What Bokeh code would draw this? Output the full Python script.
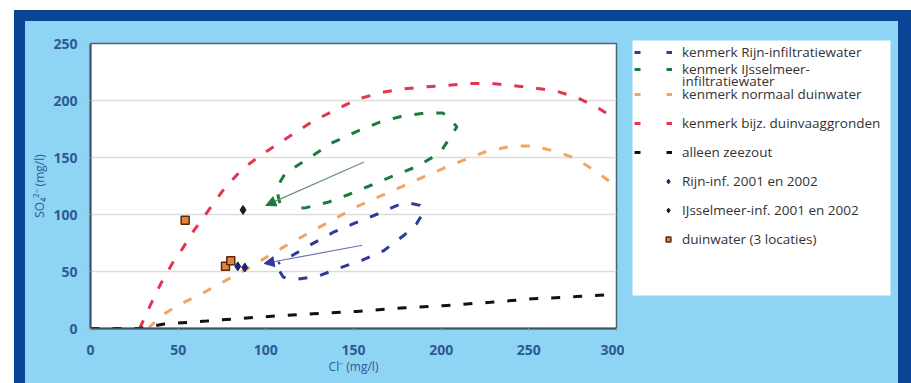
from bokeh.plotting import figure
from bokeh.layouts import row, column
from bokeh.models import (Range1d, FixedTicker, Legend, LegendItem, Arrow, NormalHead)
from bokeh.embed import file_html
from bokeh.resources import INLINE

NAN = float("nan")

# ---------------- data ----------------
x_ticks = [0, 50, 100, 150, 200, 250, 300]
y_ticks = [0, 50, 100, 150, 200, 250]

rijn_x = [108, 110, 117, 130, 142, 155, 167, 179, 186, 190, 188, 182, 175, 163, 150, 138, 125, 115, 107]
rijn_y = [50, 45, 43, 46, 53, 60, 68, 82, 92, 102, 108, 110, 108, 100, 92, 84, 73, 64, 57]

ijssel_x = [108, 106, 111, 125, 138, 152, 165, 177, 191, 201, 209, 201, 197, 186, 173, 159, 148, 136, 123, 114]
ijssel_y = [110, 123, 136, 150, 163, 173, 181, 186, 189, 189, 177, 158, 152, 142, 134, 125, 118, 111, 106, 105]

normaal_x = [33, 40, 52, 64, 77, 90, 102, 114, 126, 139, 152, 165, 177, 190, 202, 215, 227, 241, 253, 266, 277, 289, 296]
normaal_y = [0, 11, 22, 31, 42, 53, 64, 75, 85, 96, 107, 116, 124, 133, 141, 149, 156, 160, 160, 155, 149, 137, 129]

bijz_x = [28, 34, 40, 47, 52, 59, 67, 76, 86, 97, 101, 114, 126, 140, 152, 166, 177, 191, 202, 216, 228, 241, 253, 266, 277, 290, 296]
bijz_y = [0, 20, 39, 58, 69, 86, 103, 122, 139, 152, 156, 169, 181, 192, 201, 207, 210, 212, 213, 215, 215, 213, 211, 208, 203, 193, 187]

zee_x = [0, 28, 42, 66, 91, 127, 152, 177, 201, 228, 252, 277, 295]
zee_y = [0, 0, 4, 6.5, 9.5, 13, 15, 18, 20, 23, 26, 28, 29.5]

rijn_inf_x = [84, 88]
rijn_inf_y = [54.5, 53.5]
ijssel_inf_x = [87]
ijssel_inf_y = [104]
duin_x = [54, 77, 80]
duin_y = [95, 54.5, 59.5]

# arrows: (x_start, y_start, x_end, y_end)
arrow_green = [156, 146, 100, 108]
arrow_blue = [155, 73, 99, 57]

lbl_rijn = "kenmerk Rijn-infiltratiewater"
lbl_ijs = ["kenmerk IJsselmeer-", "infiltratiewater"]
lbl_lines = ["kenmerk normaal duinwater", "kenmerk bijz. duinvaaggronden", "alleen zeezout"]
lbl_marks = ["Rijn-inf. 2001 en 2002", "IJsselmeer-inf. 2001 en 2002", "duinwater (3 locaties)"]

# ---------------- styling ----------------
LIGHT = "#8ed4f5"
DARK = "#0a4595"
TXT = "#2f5a93"
C_RIJN, C_IJS, C_NORM, C_BIJZ, C_ZEE = "#2f3a9c", "#1c7a3e", "#f2a464", "#e23552", "#111111"
DASH = "9 13"
LEG_DASH = "6 26"

p = figure(width=599, height=362, x_range=Range1d(0, 300), y_range=Range1d(0, 250),
           output_backend="svg", toolbar_location=None,
           min_border_left=65, min_border_top=22, min_border_right=8, min_border_bottom=55)
p.border_fill_color = LIGHT
p.background_fill_color = "white"
p.outline_line_color = "#4d6272"
p.outline_line_width = 1.5

p.xaxis.ticker = FixedTicker(ticks=x_ticks)
p.yaxis.ticker = FixedTicker(ticks=y_ticks)
p.xgrid.grid_line_color = None
p.ygrid.grid_line_color = "#dddddd"
p.ygrid.grid_line_width = 1.5

for ax in (p.xaxis[0], p.yaxis[0]):
    ax.axis_line_color = "#3d5566"
    ax.axis_line_width = 2
    ax.major_tick_line_color = "#aaaaaa"
    ax.major_tick_in = 0
    ax.major_tick_out = 3
    ax.minor_tick_line_color = None
    ax.major_label_text_font = "Open Sans"
    ax.major_label_text_font_style = "bold"
    ax.major_label_text_font_size = "14px"
    ax.major_label_text_color = TXT
    ax.axis_label_text_font = "Open Sans"
    ax.axis_label_text_font_style = "normal"
    ax.axis_label_text_font_size = "12px"
    ax.axis_label_text_color = TXT

p.xaxis.major_label_standoff = 13
p.yaxis.major_label_standoff = 10
p.xaxis.axis_label = "Cl\u207b (mg/l)"
p.xaxis.axis_label_standoff = 0
p.yaxis.axis_label = "SO\u2084\u00b2\u207b (mg/l)"
p.yaxis.axis_label_standoff = 2

p.line(rijn_x, rijn_y, line_color=C_RIJN, line_width=3, line_dash=DASH)
p.line(ijssel_x, ijssel_y, line_color=C_IJS, line_width=3, line_dash=DASH)
p.line(normaal_x, normaal_y, line_color=C_NORM, line_width=3, line_dash=DASH)
p.line(bijz_x, bijz_y, line_color=C_BIJZ, line_width=3, line_dash=DASH)
p.line(zee_x, zee_y, line_color=C_ZEE, line_width=3, line_dash=DASH)

p.add_layout(Arrow(end=NormalHead(size=10, fill_color=C_IJS, line_color=C_IJS),
                   x_start=arrow_green[0], y_start=arrow_green[1],
                   x_end=arrow_green[2], y_end=arrow_green[3],
                   line_color="#6b8f7c", line_width=1.2))
p.add_layout(Arrow(end=NormalHead(size=10, fill_color=C_RIJN, line_color=C_RIJN),
                   x_start=arrow_blue[0], y_start=arrow_blue[1],
                   x_end=arrow_blue[2], y_end=arrow_blue[3],
                   line_color="#6a72b4", line_width=1.2))

M_RINF = dict(marker="diamond", size=9, fill_color="#1b2570", line_color="#1b2570")
M_IINF = dict(marker="diamond", size=9, fill_color="#142014", line_color="#142014")
M_DUIN = dict(marker="square", size=8, fill_color="#e8843a", line_color="#5a2a10", line_width=1.5)
p.scatter(rijn_inf_x, rijn_inf_y, **M_RINF)
p.scatter(ijssel_inf_x, ijssel_inf_y, **M_IINF)
p.scatter(duin_x, duin_y, **M_DUIN)

# ---------------- legend panel (separate figure to the right) ----------------
q = figure(width=274, height=362, output_backend="svg", toolbar_location=None,
           x_axis_type=None, y_axis_type=None,
           min_border_left=8, min_border_right=8, min_border_top=19, min_border_bottom=88,
           x_range=Range1d(0, 1), y_range=Range1d(0, 1))
q.border_fill_color = LIGHT
q.background_fill_color = "white"
q.outline_line_color = None
q.grid.visible = False

def sample_line(color, alpha=1.0):
    return q.line([NAN], [NAN], line_color=color, line_width=3, line_dash=LEG_DASH,
                  line_alpha=alpha)

def add_legend(items, loc, gw=38, standoff=10, spacing=9):
    lg = Legend(items=items, location=loc)
    lg.background_fill_alpha = 0
    lg.border_line_color = None
    lg.label_text_font = "Open Sans"
    lg.label_text_font_size = "13.5px"
    lg.label_text_color = "#333333"
    lg.glyph_width = gw
    lg.glyph_height = 20
    lg.label_height = 20
    lg.label_standoff = standoff
    lg.spacing = spacing
    lg.padding = 0
    lg.margin = 0
    q.add_layout(lg, "center")

add_legend([LegendItem(label=lbl_rijn, renderers=[sample_line(C_RIJN)])], (2, 233))
add_legend([LegendItem(label=lbl_ijs[0], renderers=[sample_line(C_IJS)])], (2, 216))
add_legend([LegendItem(label=lbl_ijs[1], renderers=[sample_line(C_IJS, 0.0)])], (2, 204))
add_legend([LegendItem(label=l, renderers=[sample_line(c)])
            for l, c in zip(lbl_lines, (C_NORM, C_BIJZ, C_ZEE))], (2, 133))
add_legend([LegendItem(label=l, renderers=[q.scatter([NAN], [NAN], **m)])
            for l, m in zip(lbl_marks, (M_RINF, M_IINF, M_DUIN))], (30, 46), gw=12, standoff=8)

inner = row(p, column(q), styles={"background-color": LIGHT})
page = column(inner, margin=(10, 0, 0, 14),
              styles={"background-color": DARK, "padding": "11px 13px 0px 11px"})

open("out.html", "w").write(file_html(page, INLINE))
